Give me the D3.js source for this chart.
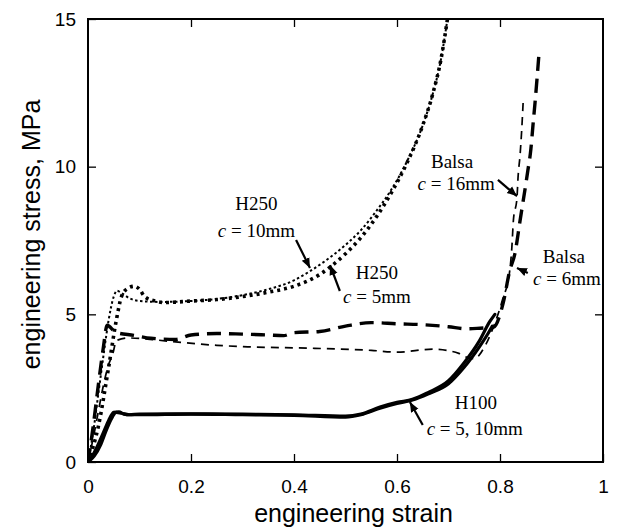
<!DOCTYPE html>
<html>
<head>
<meta charset="utf-8">
<script src="https://cdn.jsdelivr.net/npm/d3@7"></script>
<style>
  body { margin: 0; background: #fff; }
  svg { display: block; }
</style>
</head>
<body>
<script>
// stress-strain curves (strain, stress in MPa)
var strainH100a = [0, 0.01, 0.02, 0.03, 0.04, 0.05, 0.06, 0.07, 0.08, 0.1, 0.2, 0.3, 0.4, 0.5, 0.53, 0.567, 0.6, 0.63, 0.66, 0.7, 0.73, 0.76, 0.78, 0.79];
var stressH100a = [0, 0.25, 0.6, 1.0, 1.4, 1.68, 1.7, 1.62, 1.6, 1.62, 1.63, 1.62, 1.6, 1.55, 1.62, 1.86, 2.02, 2.12, 2.35, 2.75, 3.35, 4.1, 4.75, 5.0];
var strainH100b = [0, 0.012, 0.025, 0.035, 0.045, 0.055, 0.065, 0.08, 0.1, 0.2, 0.3, 0.4, 0.5, 0.53, 0.567, 0.6, 0.63, 0.66, 0.7, 0.73, 0.76, 0.775, 0.785];
var stressH100b = [0, 0.2, 0.6, 1.05, 1.45, 1.68, 1.65, 1.6, 1.6, 1.62, 1.6, 1.58, 1.52, 1.6, 1.82, 1.98, 2.1, 2.3, 2.65, 3.2, 3.9, 4.3, 4.6];

var strainH250c10 = [0, 0.01, 0.02, 0.03, 0.04, 0.05, 0.056, 0.065, 0.08, 0.1, 0.14, 0.2, 0.25, 0.3, 0.35, 0.4, 0.43, 0.46, 0.5, 0.53, 0.56, 0.59, 0.62, 0.65, 0.67, 0.685, 0.698];
var stressH250c10 = [0, 1.0, 2.3, 3.6, 4.8, 5.6, 5.8, 5.72, 5.55, 5.45, 5.42, 5.45, 5.52, 5.65, 5.85, 6.15, 6.45, 6.8, 7.35, 7.85, 8.5, 9.25, 10.2, 11.4, 12.5, 13.6, 15.0];
var strainH250c5 = [0, 0.02, 0.04, 0.055, 0.065, 0.075, 0.09, 0.1, 0.11, 0.13, 0.15, 0.2, 0.25, 0.3, 0.35, 0.4, 0.45, 0.47, 0.5, 0.53, 0.56, 0.59, 0.62, 0.65, 0.67, 0.685, 0.698];
var stressH250c5 = [0, 1.2, 3.2, 4.8, 5.6, 5.85, 5.95, 5.85, 5.6, 5.45, 5.4, 5.45, 5.5, 5.6, 5.75, 5.95, 6.35, 6.6, 7.05, 7.6, 8.3, 9.15, 10.15, 11.4, 12.5, 13.6, 15.0];

var strainBalsa16 = [0, 0.01, 0.02, 0.03, 0.04, 0.047, 0.056, 0.08, 0.12, 0.18, 0.25, 0.31, 0.44, 0.55, 0.6, 0.67, 0.72, 0.735, 0.75, 0.77, 0.79, 0.805, 0.819, 0.823, 0.826, 0.833, 0.835, 0.839, 0.842, 0.845];
var stressBalsa16 = [0, 0.8, 1.7, 2.6, 3.3, 3.6, 4.12, 4.2, 4.15, 4.05, 3.95, 3.9, 3.85, 3.78, 3.72, 3.82, 3.68, 3.55, 3.5, 3.9, 4.7, 5.5, 6.49, 7.26, 8.18, 8.95, 9.63, 10.4, 11.2, 12.2];
var strainBalsa6 = [0, 0.01, 0.02, 0.03, 0.037, 0.054, 0.089, 0.122, 0.17, 0.2, 0.25, 0.3, 0.35, 0.38, 0.4, 0.45, 0.5, 0.55, 0.6, 0.65, 0.7, 0.735, 0.761, 0.787, 0.806, 0.819, 0.829, 0.839, 0.854, 0.86, 0.864, 0.868, 0.872, 0.876];
var stressBalsa6 = [0, 1.2, 2.6, 3.9, 4.63, 4.39, 4.29, 4.19, 4.15, 4.3, 4.35, 4.33, 4.3, 4.28, 4.38, 4.42, 4.6, 4.72, 4.68, 4.65, 4.58, 4.51, 4.53, 4.56, 5.37, 6.49, 7.06, 8.18, 9.86, 10.6, 11.4, 12.16, 13.0, 13.9];

var xTicks = [0, 0.2, 0.4, 0.6, 0.8, 1];
var xTickLabels = ["0", "0.2", "0.4", "0.6", "0.8", "1"];
var yTicks = [0, 5, 10, 15];

// annotation text (strain, stress of baseline centre)
var labelText = ["H250", "c = 10mm", "H250", "c = 5mm", "Balsa", "c = 16mm", "Balsa", "c = 6mm", "H100", "c = 5, 10mm"];
var labelStrain = [0.327, 0.327, 0.561, 0.561, 0.707, 0.715, 0.924, 0.93, 0.753, 0.751];
var labelStress = [8.53, 7.62, 6.2, 5.38, 9.96, 9.21, 6.74, 6.0, 1.81, 0.91];

// arrows: tail -> tip
var arrowTail = [[0.404, 7.52], [0.489, 5.79], [0.796, 9.55], [0.854, 6.4], [0.65, 1.25]];
var arrowTip = [[0.431, 6.57], [0.470, 6.67], [0.833, 9.0], [0.833, 6.57], [0.625, 2.03]];

var W = 619, H = 530;
var pL = 88, pR = 603, pT = 19, pB = 462;

var svg = d3.select("body").append("svg")
    .attr("width", W)
    .attr("height", H);

var x = d3.scaleLinear().domain([0, 1]).range([pL, pR]);
var y = d3.scaleLinear().domain([0, 15]).range([pB, pT]);

svg.append("defs").append("clipPath").attr("id", "plotclip")
  .append("rect")
    .attr("x", pL).attr("y", pT)
    .attr("width", pR - pL).attr("height", pB - pT);

svg.append("marker")
    .attr("id", "head")
    .attr("viewBox", "0 0 10 10")
    .attr("refX", 10).attr("refY", 5)
    .attr("markerWidth", 10).attr("markerHeight", 10)
    .attr("markerUnits", "userSpaceOnUse")
    .attr("orient", "auto")
  .append("path")
    .attr("d", "M0,0.8 L10,5 L0,9.2 Z")
    .attr("fill", "#000");

function zipData(xs, ys) {
  return xs.map(function(v, i) { return [v, ys[i]]; });
}

var line = d3.line()
    .x(function(d) { return x(d[0]); })
    .y(function(d) { return y(d[1]); })
    .curve(d3.curveMonotoneX);

var series = [
  { data: zipData(strainBalsa16, stressBalsa16), w: 1.7, dash: "8,6", cap: "butt" },
  { data: zipData(strainBalsa6, stressBalsa6), w: 3.4, dash: "14,8", cap: "butt" },
  { data: zipData(strainH250c10, stressH250c10), w: 2, dash: "2.5,2.5", cap: "butt" },
  { data: zipData(strainH250c5, stressH250c5), w: 3.6, dash: "3,4", cap: "butt" },
  { data: zipData(strainH100a, stressH100a), w: 3.2, dash: null, cap: "round" },
  { data: zipData(strainH100b, stressH100b), w: 3.2, dash: null, cap: "round" }
];

var curves = svg.append("g").attr("clip-path", "url(#plotclip)");
curves.selectAll("path")
  .data(series)
  .enter()
  .append("path")
    .attr("d", function(d) { return line(d.data); })
    .attr("fill", "none")
    .attr("stroke", "#000")
    .attr("stroke-width", function(d) { return d.w; })
    .attr("stroke-dasharray", function(d) { return d.dash; })
    .attr("stroke-linecap", function(d) { return d.cap; })
    .attr("stroke-linejoin", "round");

// axes, ticks inward on all four sides
var tickLen = 8;
svg.append("g")
    .attr("transform", "translate(0," + pB + ")")
    .call(d3.axisBottom(x).tickValues(xTicks).tickSizeInner(-tickLen).tickSizeOuter(0)
      .tickFormat(function(d, i) { return xTickLabels[i]; }))
    .call(function(g) {
      g.select(".domain").remove();
      g.selectAll("line").attr("stroke-width", 1.3);
      g.selectAll("text").attr("y", 25).attr("dy", "0.32em");
    });
svg.append("g")
    .attr("transform", "translate(0," + pT + ")")
    .call(d3.axisTop(x).tickValues(xTicks.slice(1, 5)).tickSizeInner(-tickLen).tickSizeOuter(0).tickFormat(""))
    .call(function(g) {
      g.select(".domain").remove();
      g.selectAll("line").attr("stroke-width", 1.3);
    });
svg.append("g")
    .attr("transform", "translate(" + pL + ",0)")
    .call(d3.axisLeft(y).tickValues(yTicks).tickSizeInner(-tickLen).tickSizeOuter(0))
    .call(function(g) {
      g.select(".domain").remove();
      g.selectAll("line").attr("stroke-width", 1.3);
      g.selectAll("text").attr("x", -12);
    });
svg.append("g")
    .attr("transform", "translate(" + pR + ",0)")
    .call(d3.axisRight(y).tickValues(yTicks.slice(1, 3)).tickSizeInner(-tickLen).tickSizeOuter(0).tickFormat(""))
    .call(function(g) {
      g.select(".domain").remove();
      g.selectAll("line").attr("stroke-width", 1.3);
    });

svg.selectAll(".tick text")
    .attr("font-family", "'Liberation Sans', Arial, sans-serif")
    .attr("font-size", 19)
    .attr("fill", "#000");

svg.append("rect")
    .attr("x", pL).attr("y", pT)
    .attr("width", pR - pL).attr("height", pB - pT)
    .attr("fill", "none")
    .attr("stroke", "#000")
    .attr("stroke-width", 2);

// axis titles
svg.append("text")
    .attr("x", (pL + pR) / 2 + 8)
    .attr("y", 522)
    .attr("text-anchor", "middle")
    .attr("font-family", "'Liberation Sans', Arial, sans-serif")
    .attr("font-size", 25)
    .text("engineering strain");

svg.append("text")
    .attr("transform", "translate(40," + ((pT + pB) / 2 - 6) + ") rotate(-90)")
    .attr("text-anchor", "middle")
    .attr("font-family", "'Liberation Sans', Arial, sans-serif")
    .attr("font-size", 25)
    .text("engineering stress, MPa");

// annotations
var labels = svg.append("g")
    .attr("font-family", "'Liberation Serif', 'Times New Roman', serif")
    .attr("font-size", 19);

labelText.forEach(function(t, i) {
  var txt = labels.append("text")
      .attr("x", x(labelStrain[i]))
      .attr("y", y(labelStress[i]))
      .attr("text-anchor", "middle");
  if (t.indexOf("c = ") === 0) {
    txt.append("tspan").attr("font-style", "italic").text("c");
    txt.append("tspan").text(t.slice(1));
  } else {
    txt.text(t);
  }
});

svg.append("g").selectAll("line")
  .data(arrowTail)
  .enter()
  .append("line")
    .attr("x1", function(d) { return x(d[0]); })
    .attr("y1", function(d) { return y(d[1]); })
    .attr("x2", function(d, i) { return x(arrowTip[i][0]); })
    .attr("y2", function(d, i) { return y(arrowTip[i][1]); })
    .attr("stroke", "#000")
    .attr("stroke-width", 2.2)
    .attr("marker-end", "url(#head)");
</script>
</body>
</html>
